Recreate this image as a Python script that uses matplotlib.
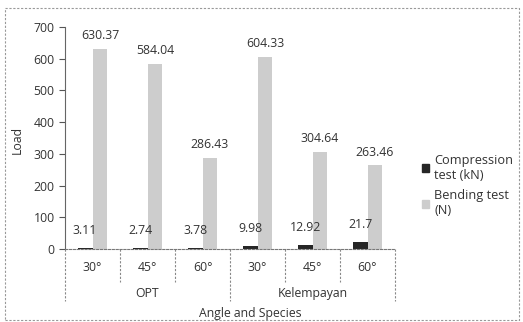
import matplotlib
matplotlib.use("Agg")
import matplotlib.pyplot as plt
from matplotlib.patches import Patch, Rectangle
import numpy as np

plt.rcParams['font.family'] = ['Open Sans', 'DejaVu Sans']

angles = ["30°", "45°", "60°", "30°", "45°", "60°"]
species = ["OPT", "Kelempayan"]
compression = [3.11, 2.74, 3.78, 9.98, 12.92, 21.7]
bending = [630.37, 584.04, 286.43, 604.33, 304.64, 263.46]
comp_labels = ["3.11", "2.74", "3.78", "9.98", "12.92", "21.7"]
bend_labels = ["630.37", "584.04", "286.43", "604.33", "304.64", "263.46"]
yticks = [0, 100, 200, 300, 400, 500, 600, 700]

W, H = 523, 322
fig = plt.figure(figsize=(W / 100, H / 100), dpi=100)
ax = fig.add_axes([65 / W, 1 - 249 / H, (395 - 65) / W, (249 - 27) / H])

x = np.arange(len(angles))
bw = 0.27
comp_color = "#262626"
bend_color = "#cdcdcd"
ax.bar(x - bw / 2, compression, bw, color=comp_color, label="Compression\ntest (kN)")
ax.bar(x + bw / 2, bending, bw, color=bend_color, label="Bending test\n(N)")

txtc = "#333333"
fs = 8.8
for xi, v, s in zip(x, compression, comp_labels):
    ax.annotate(s, (xi - bw / 2, v), xytext=(0, 8), textcoords="offset points",
                ha="center", va="bottom", fontsize=fs, color=txtc)
for xi, v, s in zip(x, bending, bend_labels):
    ax.annotate(s, (xi + bw / 2, v), xytext=(0, 5), textcoords="offset points",
                ha="center", va="bottom", fontsize=fs, color=txtc)

ax.set_xlim(-0.5, len(angles) - 0.5)
ax.set_ylim(0, 700)
ax.set_yticks(yticks)
ax.tick_params(axis="y", labelsize=fs, colors="#555555", labelcolor=txtc, length=4, direction="out")
ax.set_xticks([])
for sp in ["top", "right"]:
    ax.spines[sp].set_visible(False)
ax.spines["left"].set_color("#666666")
ax.spines["bottom"].set_color("#777777")
ax.spines["bottom"].set_linestyle((0, (2, 1.5)))

fig.text(17 / W, 1 - 140 / H, "Load", rotation=90, ha="center", va="center",
         fontsize=fs, color=txtc)

# Multi-level category axis
trans = ax.get_xaxis_transform()
for xi, lab in zip(x, angles):
    ax.text(xi, -0.082, lab, transform=trans, ha="center", va="center", fontsize=fs, color=txtc)
for i, sp in enumerate(species):
    ax.text(1 + 3 * i, -0.20, sp, transform=trans, ha="center", va="center", fontsize=fs, color=txtc)
for b in np.arange(-0.5, len(angles), 1.0):
    long = (b == -0.5) or (b == 2.5) or (b == len(angles) - 0.5)
    y1 = -0.235 if long else -0.15
    ax.plot([b, b], [0, y1], transform=trans, color="#888888", lw=0.8,
            ls=(0, (2, 1.5)), clip_on=False)

fig.text(250 / W, 1 - 313 / H, "Angle and Species", ha="center", va="center",
         fontsize=fs, color=txtc)

handles = [Patch(color=comp_color), Patch(color=bend_color)]
fig.legend(handles, ["Compression\ntest (kN)", "Bending test\n(N)"],
           loc="upper left", bbox_to_anchor=(410 / W, 1 - 142 / H), frameon=False,
           fontsize=9.2, handlelength=0.6, handleheight=0.6, handletextpad=0.4,
           labelspacing=0.6, labelcolor=txtc)

fig.patches.append(Rectangle((5 / W, 2 / H), 514 / W, 1 - 10 / H, transform=fig.transFigure,
                             fill=False, ec="#999999", lw=0.8, ls=(0, (2, 1.5))))

fig.savefig("out.png", dpi=100)
